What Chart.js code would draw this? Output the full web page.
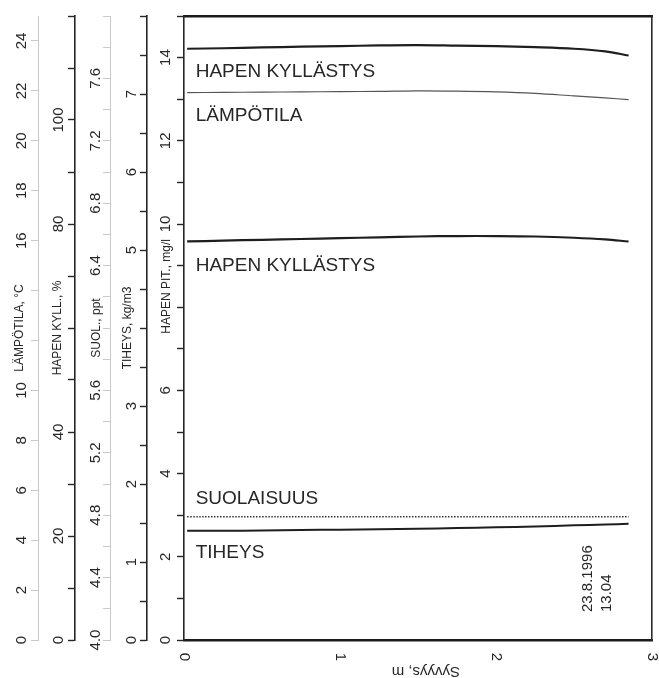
<!DOCTYPE html>
<html>
<head>
<meta charset="utf-8">
<title>Syvyysprofiili 23.8.1996</title>
<script src="https://cdn.jsdelivr.net/npm/chart.js@4/dist/chart.umd.min.js"></script>
<style>
  html, body { margin: 0; padding: 0; background: #ffffff; }
  canvas { display: block; }
</style>
</head>
<body>
<canvas id="profile" width="659" height="678"></canvas>
<script>
// Measured profile, depth in metres
const depth       = [0.02, 0.25, 0.5, 0.75, 1.0, 1.25, 1.5, 1.75, 2.0, 2.25, 2.5, 2.7, 2.85];
const oxygenSat   = [113.7, 113.8, 113.95, 114.1, 114.2, 114.35, 114.4, 114.3, 114.2, 114.0, 113.7, 113.2, 112.4]; // %
const temperature = [21.93, 21.94, 21.95, 21.96, 21.97, 21.98, 22.0, 21.99, 21.96, 21.9, 21.8, 21.72, 21.65]; // °C
const oxygenConc  = [9.58, 9.60, 9.62, 9.64, 9.66, 9.68, 9.70, 9.71, 9.71, 9.70, 9.67, 9.63, 9.58]; // mg/l
const salinity    = [4.79, 4.79, 4.79, 4.79, 4.79, 4.79, 4.79, 4.79, 4.79, 4.79, 4.79, 4.79, 4.79]; // ppt
const density     = [1.40, 1.40, 1.405, 1.41, 1.415, 1.42, 1.425, 1.435, 1.445, 1.455, 1.47, 1.48, 1.49]; // kg/m3

const seriesNames = ['HAPEN KYLLÄSTYS', 'LÄMPÖTILA', 'HAPEN KYLLÄSTYS', 'SUOLAISUUS', 'TIHEYS'];

// Tick labels printed on each axis
const tempTickLabels  = ['0', '2', '4', '6', '8', '10', '16', '18', '20', '22', '24'];
const satTickLabels   = ['0', '20', '40', '80', '100'];
const salTickLabels   = ['4.0', '4.4', '4.8', '5.2', '5.6', '6.4', '6.8', '7.2', '7.6'];
const densTickLabels  = ['0', '1', '2', '3', '5', '6', '7'];
const concTickLabels  = ['0', '2', '4', '6', '10', '12', '14'];
const depthTickLabels = ['0', '1', '2', '3'];

const axisTitles = ['LÄMPÖTILA, °C', 'HAPEN KYLL., %', 'SUOL., ppt', 'TIHEYS, kg/m3', 'HAPEN PIT., mg/l'];
const depthTitle = 'Syvyys, m';
const dateLines  = ['23.8.1996', '13.04'];

const FONT = "'Liberation Sans', Arial, Helvetica, sans-serif";
const INK = '#262626';
const FAINT = '#c9c9c9';

function points(values) {
  return depth.map((d, i) => ({ x: d, y: values[i] }));
}

function leftAxis(cfg) {
  return {
    type: 'linear',
    position: 'left',
    weight: cfg.weight,
    min: cfg.min,
    max: cfg.max,
    afterFit: s => { s.width = cfg.width; },
    border: { display: true, color: cfg.faint ? FAINT : INK, width: cfg.faint ? 1 : 1.6 },
    grid: {
      drawOnChartArea: false, drawTicks: true, tickLength: 7,
      tickColor: cfg.faint ? FAINT : INK, tickWidth: cfg.faint ? 1 : 1.4
    },
    ticks: {
      stepSize: cfg.step,
      includeBounds: cfg.bounds !== false,
      autoSkip: false,
      minRotation: 90, maxRotation: 90,
      crossAlign: 'center',
      padding: cfg.pad,
      color: INK,
      font: { family: FONT, size: 15 },
      callback: v => {
        const s = cfg.fmt(v);
        return cfg.labels.includes(s) ? s : '';
      }
    },
    title: {
      display: true,
      text: cfg.title,
      color: INK,
      font: { family: FONT, size: 12 },
      padding: { top: cfg.titlePad, bottom: 0 }
    }
  };
}

const intFmt = v => String(Math.round(v * 1000) / 1000);
const oneDec = v => v.toFixed(1);

// Series names written under (or above) the start of each curve
const seriesLabelPlugin = {
  id: 'seriesLabels',
  afterDatasetsDraw(chart) {
    const { ctx, scales } = chart;
    const offsets = [28, 28, 30, -13, 27];
    const x = scales.x.getPixelForValue(0.075);
    ctx.save();
    ctx.fillStyle = INK;
    ctx.font = `19px ${FONT}`;
    ctx.textAlign = 'left';
    ctx.textBaseline = 'alphabetic';
    seriesNames.forEach((name, i) => {
      const first = chart.getDatasetMeta(i).data[0];
      ctx.fillText(name, x, first.y + offsets[i]);
    });
    ctx.restore();
  }
};

// Depth axis labels are printed turned, the title upside down, plus the date stamp
const depthAxisTextPlugin = {
  id: 'depthAxisText',
  afterDraw(chart) {
    const { ctx, scales, chartArea } = chart;
    const xs = scales.x;
    ctx.save();
    ctx.fillStyle = INK;
    ctx.textAlign = 'center';
    ctx.textBaseline = 'middle';
    ctx.font = `15px ${FONT}`;
    xs.ticks.forEach(t => {
      const s = intFmt(t.value);
      if (!depthTickLabels.includes(s)) return;
      ctx.save();
      ctx.translate(xs.getPixelForValue(t.value), chartArea.bottom + 17);
      ctx.rotate(Math.PI / 2);
      ctx.fillText(s, 0, 0);
      ctx.restore();
    });
    ctx.save();
    ctx.font = `15px ${FONT}`;
    ctx.translate(xs.getPixelForValue(1.55), chartArea.bottom + 31);
    ctx.rotate(Math.PI);
    ctx.fillText(depthTitle, 0, 0);
    ctx.restore();

    ctx.font = `15px ${FONT}`;
    ctx.textAlign = 'left';
    dateLines.forEach((line, i) => {
      ctx.save();
      ctx.translate(xs.getPixelForValue(2.59) + i * 19, chartArea.bottom - 28);
      ctx.rotate(-Math.PI / 2);
      ctx.fillText(line, 0, 0);
      ctx.restore();
    });
    ctx.restore();
  }
};

const solid = (data, axis, width, color) => ({
  data: points(data), yAxisID: axis,
  borderColor: color, borderWidth: width,
  pointRadius: 0, tension: 0.35, fill: false
});

const datasets = [
  solid(oxygenSat, 'ySat', 2.2, '#1e1e1e'),
  solid(temperature, 'yTemp', 1.1, '#555555'),
  solid(oxygenConc, 'yConc', 2.2, '#1e1e1e'),
  Object.assign(solid(salinity, 'ySal', 1.4, '#333333'), { borderDash: [1.5, 1.5] }),
  solid(density, 'yDens', 2.0, '#1e1e1e')
];

new Chart(document.getElementById('profile'), {
  type: 'line',
  data: { datasets },
  options: {
    responsive: false,
    animation: false,
    layout: { padding: { top: 16, right: 7, bottom: 0, left: 0 } },
    plugins: { legend: { display: false }, tooltip: { enabled: false } },
    scales: {
      x: {
        type: 'linear', position: 'bottom', min: 0, max: 3,
        afterFit: s => { s.height = 38; },
        border: { display: true, color: '#1a1a1a', width: 2.6 },
        grid: { drawOnChartArea: false, drawTicks: false },
        ticks: { display: false, stepSize: 1 }
      },
      xTop: {
        type: 'linear', position: 'top', min: 0, max: 3,
        afterFit: s => { s.height = 0; },
        border: { display: true, color: '#1a1a1a', width: 2.6 },
        grid: { drawOnChartArea: false, drawTicks: false },
        ticks: { display: false }
      },
      yRight: {
        type: 'linear', position: 'right', min: 0, max: 1,
        afterFit: s => { s.width = 0; },
        border: { display: true, color: '#2a2a2a', width: 1.6 },
        grid: { drawOnChartArea: false, drawTicks: false },
        ticks: { display: false }
      },
      yTemp: leftAxis({ weight: 5, min: 0, max: 25, step: 2, bounds: false, width: 38, pad: 0.7, faint: true,
        labels: tempTickLabels, fmt: intFmt, title: axisTitles[0], titlePad: 12.8 }),
      ySat: leftAxis({ weight: 4, min: 0, max: 120, step: 10, width: 37, pad: -3.5, faint: false,
        labels: satTickLabels, fmt: intFmt, title: axisTitles[1], titlePad: 12.8 }),
      ySal: leftAxis({ weight: 3, min: 4, max: 8, step: 0.2, width: 35, pad: -3.4, faint: true,
        labels: salTickLabels, fmt: oneDec, title: axisTitles[2], titlePad: 14.8 }),
      yDens: leftAxis({ weight: 2, min: 0, max: 8, step: 0.5, width: 37, pad: 3.8, faint: false,
        labels: densTickLabels, fmt: intFmt, title: axisTitles[3], titlePad: 10.8 }),
      yConc: leftAxis({ weight: 1, min: 0, max: 15, step: 1, width: 37, pad: 2.7, faint: false,
        labels: concTickLabels, fmt: intFmt, title: '                         ' + axisTitles[4], titlePad: 12.8 })
    }
  },
  plugins: [seriesLabelPlugin, depthAxisTextPlugin]
});
</script>
</body>
</html>
